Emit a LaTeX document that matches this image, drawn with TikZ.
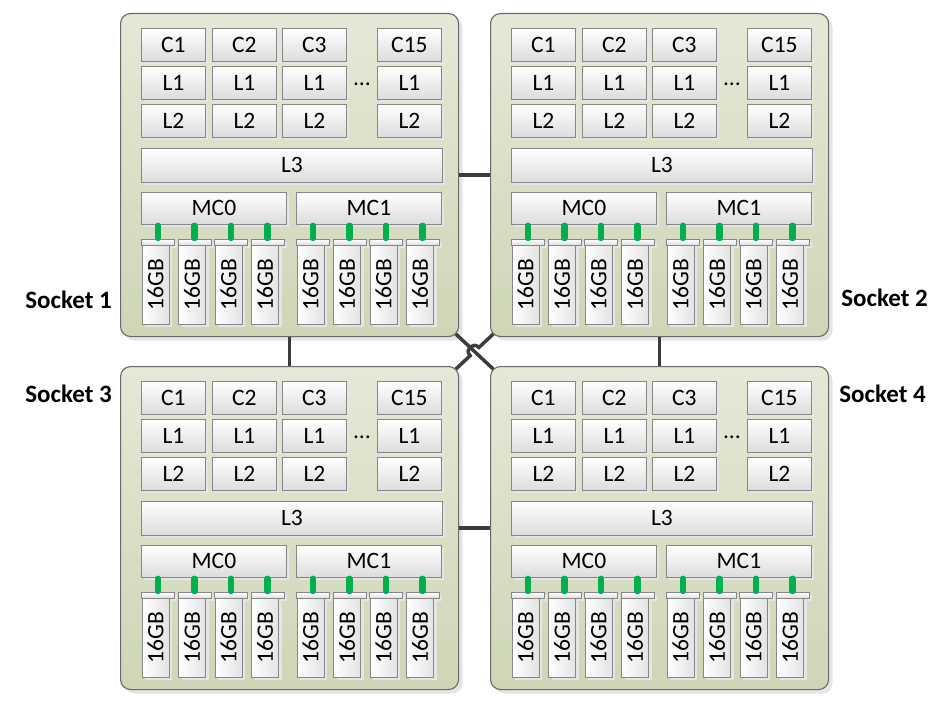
\documentclass[tikz,border=0pt]{standalone}
\usepackage{fontspec}
\usepackage{graphicx}
\setmainfont{Carlito}
\usetikzlibrary{positioning, calc, shadows}
\definecolor{sockettop}{RGB}{229,232,215}
\definecolor{socketbottom}{RGB}{206,214,182}
\definecolor{socketline}{RGB}{105,105,105}
\definecolor{boxline}{RGB}{135,135,135}
\definecolor{boxshade}{RGB}{220,220,220}
\definecolor{linkgray}{RGB}{60,60,60}
\definecolor{busgreen}{RGB}{0,176,80}

\tikzset{
  socket/.style={draw=socketline, line width=1.1pt, rounded corners=10pt, top color=sockettop, bottom color=socketbottom,
    minimum width=338pt, minimum height=323pt, anchor=north west, inner sep=0pt,
    drop shadow={shadow xshift=4pt, shadow yshift=-4pt, fill=black!10, opacity=1}},
  unit/.style={draw=boxline, line width=0.8pt, top color=white, bottom color=boxshade, inner sep=0pt,
    font=\fontsize{23.5}{26}\selectfont,
    drop shadow={shadow xshift=3pt, shadow yshift=-3pt, fill=black!10, opacity=1}},
  corebox/.style={unit, anchor=north west, minimum width=64pt, minimum height=33pt},
  cachebox/.style={unit, anchor=north west, minimum width=301pt, minimum height=34pt},
  mcbox/.style={unit, anchor=north west, minimum width=145pt, minimum height=32pt},
  dimmbar/.style={unit, anchor=north west, minimum width=33pt, minimum height=6pt, font=\tiny},
  dimm/.style={unit, minimum width=27pt, minimum height=79pt, left color=white, right color=boxshade!80},
  bus/.style={draw=busgreen, line width=6.5pt, line cap=round, shorten <=1pt, shorten >=1pt},
  link/.style={draw=linkgray, line width=3.5pt},
  sockettitle/.style={font=\fontsize{25}{28}\selectfont\bfseries, inner sep=0pt}
}

\begin{document}
\begin{tikzpicture}[x=1pt, y=-1pt]
  \useasboundingbox (0,0) rectangle (949,703);

  \foreach \s/\ox/\oy in {1/120/13, 2/490/13, 3/120/366, 4/490/366} {
    \node[socket] (s\s) at (\ox,\oy) {};
    \begin{scope}[shift={(\ox,\oy)}]
      % cores with their private caches
      \foreach \n/\x in {1/21, 2/92, 3/162, 15/257} {
        \node[corebox] (c\s-\n) at (\x,15) {C\n};
        \node[corebox] (la\s-\n) at (\x,53) {L1};
        \node[corebox] (lb\s-\n) at (\x,91) {L2};
      }
      \node[font=\fontsize{23.5}{26}\selectfont] (dots\s) at (242,71) {\dots};
      \node[cachebox] (l3\s) at (21,135) {L3};
      \node[mcbox] (m\s-0) at (21,179) {MC0};
      \node[mcbox] (m\s-1) at (176,179) {MC1};
      % memory modules
      \foreach \k/\left/\mc in {0/22/0, 1/58.5/0, 2/95/0, 3/131.5/0, 4/177/1, 5/213.5/1, 6/250/1, 7/286.5/1} {
        \node[dimmbar] (b\s-\k) at (\left-1,226) {};
        \node[dimm] (d\s-\k) at (\left+13.5,271.5) {\rotatebox{90}{16GB}};
        \draw[bus] (b\s-\k.north) -- (b\s-\k.north |- m\s-\mc.south);
      }
    \end{scope}
  }

  \node[sockettitle, anchor=east] (t1) at ($(s1.south west)+(-8,-37)$) {Socket 1};
  \node[sockettitle, anchor=west] (t2) at ($(s2.south east)+(12,-39)$) {Socket 2};
  \node[sockettitle, anchor=east] (t3) at ($(s3.north west)+(-8,28)$) {Socket 3};
  \node[sockettitle, anchor=west] (t4) at ($(s4.north east)+(10,28)$) {Socket 4};

  % socket interconnect
  \draw[link] (s1.east) -- (s2.west);
  \draw[link] (s3.east) -- (s4.west);
  \draw[link] (s1.south) -- (s3.north);
  \draw[link] (s2.south) -- (s4.north);
  \coordinate (x) at ($(s1.south east)!0.5!(s4.north west)$);
  \draw[link, shorten <=-4.5pt, shorten >=-4.5pt] (s1.south east) -- (s4.north west);
  \draw[link] ($(s2.south west)!-4.5pt!(s3.north east)$) -- ($(x)!6pt!(s2.south west)$)
    .. controls +(-6,-6) and +(-6,-6) .. ($(x)!6pt!(s3.north east)$) -- ($(s3.north east)!-4.5pt!(s2.south west)$);
\end{tikzpicture}
\end{document}
